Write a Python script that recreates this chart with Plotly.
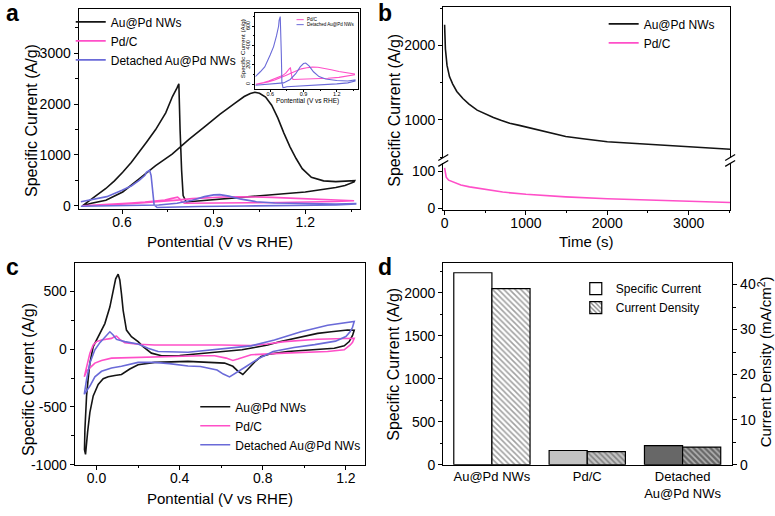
import plotly.graph_objects as go

# ---------------------------------------------------------------- data
# Panel a : CVs in ethanol (potential V vs RHE, specific current A/g)
a_aupd_E = [0.47, 0.50, 0.547, 0.602, 0.656, 0.71, 0.764, 0.819, 0.873, 0.92, 0.97, 1.00, 1.02, 1.035,
            1.05, 1.07, 1.09, 1.11, 1.13, 1.15, 1.17, 1.19, 1.22, 1.26, 1.30, 1.34, 1.362,
            1.36, 1.33, 1.30, 1.25, 1.20, 1.14, 1.08, 1.02, 0.97, 0.92, 0.87, 0.84, 0.82, 0.81,
            0.80, 0.795, 0.79, 0.786, 0.78, 0.765, 0.743, 0.71, 0.68, 0.656, 0.63, 0.602, 0.575,
            0.547, 0.52, 0.504, 0.485, 0.47]
a_aupd_I = [0, 50, 110, 272, 530, 790, 1015, 1306, 1566, 1800, 2020, 2150, 2210, 2235,
            2215, 2140, 1980, 1730, 1430, 1160, 930, 730, 560, 490, 475, 480, 495,
            470, 400, 360, 310, 270, 240, 210, 180, 150, 125, 100, 85, 70, 75,
            200, 700, 1500, 2400, 2320, 2150, 1830, 1500, 1250, 1050, 850, 660, 490,
            340, 220, 140, 60, 0]

a_pdc_E = [0.47, 0.52, 0.58, 0.64, 0.70, 0.74, 0.78, 0.83, 0.88, 0.93, 0.98, 1.03, 1.09, 1.15,
           1.22, 1.29, 1.36, 1.36, 1.30, 1.22, 1.12, 1.02, 0.92, 0.84, 0.805, 0.795, 0.79,
           0.782, 0.775, 0.76, 0.74, 0.71, 0.675, 0.63, 0.585, 0.54, 0.50, 0.47]
a_pdc_I = [0, 8, 25, 45, 70, 92, 112, 140, 160, 172, 178, 176, 165, 150,
           132, 118, 108, 98, 85, 72, 63, 58, 54, 51, 50, 80, 130,
           170, 165, 140, 115, 90, 72, 52, 34, 20, 8, 0]

a_det_E = [0.465, 0.55, 0.65, 0.72, 0.78, 0.83, 0.87, 0.90, 0.92, 0.95, 0.99, 1.04, 1.10, 1.20,
           1.30, 1.365, 1.365, 1.30, 1.20, 1.00, 0.85, 0.75, 0.715, 0.705, 0.70, 0.695, 0.69,
           0.68, 0.675, 0.656, 0.63, 0.60, 0.55, 0.51, 0.48, 0.465]
a_det_I = [-10, 0, 5, 15, 50, 110, 180, 215, 220, 190, 130, 80, 55, 40,
           35, 45, 35, 15, 5, -5, -15, -25, -35, 20, 300, 600, 700,
           660, 600, 500, 390, 305, 180, 130, 95, 80]

# Panel b : chronoamperometry (time s, specific current A/g)
b_aupd_t = [0, 5, 10, 30, 60, 100, 150, 225, 300, 400, 500, 600, 700, 800, 918, 1100, 1326,
            1489, 1700, 2000, 2300, 2550, 2800, 3000, 3250, 3510]
b_aupd_I = [2276, 2150, 1950, 1730, 1580, 1480, 1380, 1286, 1210, 1130, 1075, 1030, 990, 955,
            925, 880, 824, 775, 745, 706, 685, 670, 655, 640, 622, 604]
b_pdc_t = [0, 5, 20, 50, 102, 200, 306, 500, 714, 1000, 1250, 1489, 2000, 2500, 3000, 3510]
b_pdc_I = [109, 100, 84, 76, 71, 63, 58, 51, 44, 38, 34, 31, 26, 23, 20, 16]

# Panel c : CVs in H2SO4 (potential V vs RHE, specific current A/g)
c_aupd_E = [-0.053, -0.058, -0.056, -0.052, -0.048, -0.040, -0.032, -0.016, 0.008, 0.040, 0.064,
            0.080, 0.092, 0.104, 0.112, 0.120, 0.128, 0.144, 0.168, 0.200, 0.224, 0.264, 0.313,
            0.40, 0.50, 0.60, 0.70, 0.76, 0.824, 0.88, 0.952, 1.00, 1.064, 1.13, 1.208, 1.24,
            1.232, 1.216, 1.192, 1.144, 1.032, 0.920, 0.840, 0.792, 0.760, 0.728, 0.704, 0.680,
            0.656, 0.616, 0.552, 0.44, 0.28, 0.20, 0.16, 0.12, 0.088, 0.056, 0.032, 0.008,
            -0.016, -0.032, -0.043, -0.050, -0.053]
c_aupd_I = [-911, -870, -700, -520, -404, -250, -120, 23, 109, 222, 365,
            500, 610, 650, 600, 480, 337, 166, 109, 66, 23, -34, -56,
            -55, -40, -25, -5, 15, 37, 65, 94, 115, 137, 152, 166, 165,
            120, 66, 29, 9, -5, -20, -40, -62, -113, -176, -219, -190,
            -148, -120, -114, -105, -114, -134, -171, -219, -228, -239, -256, -305,
            -404, -547, -718, -860, -911]

c_pdc_E = [-0.059, -0.048, -0.032, -0.016, 0.0, 0.024, 0.05, 0.072, 0.088, 0.096, 0.112, 0.136,
           0.2, 0.28, 0.6, 0.744, 0.82, 0.904, 1.064, 1.208, 1.24,
           1.232, 1.221, 1.192, 1.112, 0.904, 0.744, 0.68, 0.656, 0.624, 0.568, 0.50, 0.36,
           0.2, 0.072, 0.024, -0.008, -0.032, -0.048, -0.059]
c_pdc_I = [-239, -148, -34, 37, 66, 80, 85, 94, 110, 114, 85, 57,
           43, 37, 37, 32, 45, 66, 86, 94, 95,
           60, 37, -5, -20, -34, -48, -85, -97, -77, -56, -56, -62,
           -68, -77, -97, -120, -162, -191, -239]

c_det_E = [-0.059, -0.048, -0.032, -0.008, 0.016, 0.04, 0.064, 0.08, 0.096, 0.136, 0.2, 0.248,
           0.296, 0.44, 0.6, 0.744, 0.856, 0.984, 1.112, 1.224, 1.24,
           1.232, 1.22, 1.2, 1.15, 1.05, 0.95, 0.85, 0.78, 0.72, 0.67, 0.64, 0.61, 0.58, 0.5,
           0.44, 0.35, 0.28, 0.2, 0.16, 0.12, 0.072, 0.024, -0.008, -0.032, -0.059]
c_det_I = [-390, -262, -120, -5, 57, 109, 151, 123, 85, 66, 46, 9,
           -20, -26, 0, 29, 80, 151, 208, 237, 240,
           190, 150, 110, 70, 40, 15, -20, -80, -150, -210, -240, -215, -180, -150,
           -145, -125, -114, -114, -134, -148, -162, -191, -239, -319, -390]

# Panel d : bar comparison
d_categories = ["Au@Pd NWs", "Pd/C", "Detached<br>Au@Pd NWs"]
d_specific_current = [2235, 165, 223]      # A/g  (left axis)
d_current_density = [39.1, 2.9, 3.9]       # mA/cm2 (right axis)

c_ytick_vals = [-1000, -500, 0, 500]
c_ytick_text = ["-1000", "-500", "0", "500"]

# ---------------------------------------------------------------- style
FONT = "Liberation Sans, Arial, Helvetica, sans-serif"
BLACK = "#141414"
PINK = "#ff4fc8"
BLUE = "#6a6ad8"
LW = 1.6
W, H = 775, 516


def fx(p):
    return p / W


def fy(p):
    return 1 - p / H


def axis(size=14, ticklen=4, **kw):
    d = dict(showline=True, linecolor="black", linewidth=1.3, ticks="outside", ticklen=ticklen,
             tickwidth=1.2, tickcolor="black", showgrid=False, zeroline=False,
             tickfont=dict(family=FONT, size=size, color="black"))
    d.update(kw)
    return d


def minor(dt, ln=2.5, **kw):
    d = dict(ticks="outside", ticklen=ln, tickwidth=1, tickcolor="black", dtick=dt, showgrid=False)
    d.update(kw)
    return d


fig = go.Figure()

# panel a
fig.add_trace(go.Scatter(x=a_aupd_E, y=a_aupd_I, mode="lines", name="Au@Pd NWs",
                         line=dict(color=BLACK, width=LW), xaxis="x", yaxis="y", legend="legend"))
fig.add_trace(go.Scatter(x=a_pdc_E, y=a_pdc_I, mode="lines", name="Pd/C",
                         line=dict(color=PINK, width=LW), xaxis="x", yaxis="y", legend="legend"))
fig.add_trace(go.Scatter(x=a_det_E, y=a_det_I, mode="lines", name="Detached Au@Pd NWs",
                         line=dict(color=BLUE, width=LW), xaxis="x", yaxis="y", legend="legend"))
# inset of panel a
fig.add_trace(go.Scatter(x=a_pdc_E, y=a_pdc_I, mode="lines", showlegend=False,
                         line=dict(color=PINK, width=1.1), xaxis="x2", yaxis="y2"))
fig.add_trace(go.Scatter(x=a_det_E, y=a_det_I, mode="lines", showlegend=False,
                         line=dict(color=BLUE, width=1.1), xaxis="x2", yaxis="y2"))
# panel b
fig.add_trace(go.Scatter(x=b_aupd_t, y=b_aupd_I, mode="lines", name="Au@Pd NWs",
                         line=dict(color=BLACK, width=LW), xaxis="x3", yaxis="y3", legend="legend2"))
fig.add_trace(go.Scatter(x=b_pdc_t, y=b_pdc_I, mode="lines", name="Pd/C",
                         line=dict(color=PINK, width=LW), xaxis="x4", yaxis="y4", legend="legend2"))
# panel c
fig.add_trace(go.Scatter(x=c_aupd_E, y=c_aupd_I, mode="lines", name="Au@Pd NWs",
                         line=dict(color=BLACK, width=LW), xaxis="x5", yaxis="y5", legend="legend3"))
fig.add_trace(go.Scatter(x=c_pdc_E, y=c_pdc_I, mode="lines", name="Pd/C",
                         line=dict(color=PINK, width=LW), xaxis="x5", yaxis="y5", legend="legend3"))
fig.add_trace(go.Scatter(x=c_det_E, y=c_det_I, mode="lines", name="Detached Au@Pd NWs",
                         line=dict(color=BLUE, width=LW), xaxis="x5", yaxis="y5", legend="legend3"))
# panel d
bar_fill = ["white", "#c3c3c3", "#676767"]
fig.add_trace(go.Bar(x=d_categories, y=d_specific_current, name="Specific Current",
                     width=0.4, offset=-0.4, xaxis="x6", yaxis="y6", legend="legend4",
                     marker=dict(color=bar_fill, line=dict(color="black", width=1.2))))
fig.add_trace(go.Bar(x=d_categories, y=d_current_density, name="Current Density",
                     width=0.4, offset=0.0, xaxis="x6", yaxis="y7", legend="legend4",
                     marker=dict(color=bar_fill, line=dict(color="black", width=1.2),
                                 pattern=dict(shape="\\", fillmode="overlay", fgcolor="black",
                                              size=4, solidity=0.4))))

leg = dict(bgcolor="rgba(0,0,0,0)", font=dict(family=FONT, size=12, color="black"),
           xanchor="left", yanchor="top", tracegroupgap=0)

XS = -4  # pull x tick labels a little closer to the axis line

fig.update_layout(
    width=W, height=516, margin=dict(l=0, r=0, t=0, b=0),
    paper_bgcolor="white", plot_bgcolor="white",
    font=dict(family=FONT, color="black"),
    barmode="overlay",
    # panel a
    xaxis=axis(domain=[fx(76), fx(358)], range=[0.458, 1.378], anchor="y", mirror=True,
               tick0=0.6, dtick=0.3, tickformat=".1f", minor=minor(0.15), ticklabelstandoff=XS),
    yaxis=axis(domain=[fy(212), fy(9)], range=[-58, 3876], anchor="x", mirror=True,
               tick0=0, dtick=1000, minor=minor(500)),
    # inset
    xaxis2=axis(size=5.5, ticklen=2, domain=[fx(253.3), fx(356.7)], range=[0.465, 1.395],
                anchor="y2", mirror=True, tick0=0.6, dtick=0.3, tickformat=".1f",
                linewidth=0.9, minor=minor(0.15, 1.5), ticklabelstandoff=-2),
    yaxis2=axis(size=5.5, ticklen=2, domain=[fy(90), fy(13.3)], range=[-44, 736], anchor="x2",
                mirror=True, tick0=0, dtick=200, tickangle=-90, linewidth=0.9,
                minor=minor(100, 1.5)),
    # panel b (broken axis)
    xaxis3=axis(domain=[fx(442), fx(730)], range=[-16, 3510], anchor="y3", side="top",
                mirror=False, ticks="", showticklabels=False),
    yaxis3=axis(domain=[fy(160), fy(7)], range=[494, 2515], anchor="x3", mirror=True,
                tick0=0, dtick=1000, minor=minor(500)),
    xaxis4=axis(domain=[fx(442), fx(730)], range=[-16, 3510], anchor="y4", mirror=False,
                tick0=0, dtick=1000, minor=minor(500), ticklabelstandoff=XS),
    yaxis4=axis(domain=[fy(213), fy(166)], range=[-3.4, 121], anchor="x4", mirror=True,
                tick0=0, dtick=100, minor=minor(50)),
    # panel c
    xaxis5=axis(domain=[fx(72), fx(363)], range=[-0.105, 1.29], anchor="y5", mirror=True,
                tick0=0, dtick=0.4, tickformat=".1f", minor=minor(0.2), ticklabelstandoff=XS),
    yaxis5=axis(domain=[fy(472), fy(267)], range=[-1000, 748], anchor="x5", mirror=True,
                tickmode="array", tickvals=c_ytick_vals, ticktext=c_ytick_text,
                minor=minor(250, tick0=0)),
    # panel d
    xaxis6=axis(size=13, domain=[fx(442), fx(732)], range=[-0.51, 2.52], anchor="y6",
                type="category", mirror=True, ticks=""),
    yaxis6=axis(domain=[fy(472), fy(267)], range=[0, 2350], anchor="x6", mirror=False,
                tick0=0, dtick=500, minor=minor(250)),
    yaxis7=axis(domain=[fy(472), fy(267)], range=[0, 44.8], anchor="x6", overlaying="y6",
                side="right", tick0=0, dtick=10, minor=minor(5)),
    legend=dict(leg, x=fx(68), y=fy(7.5)),
    legend2=dict(leg, x=fx(603), y=fy(9.5)),
    legend3=dict(leg, x=fx(193), y=fy(398.5)),
    legend4=dict(leg, x=fx(575), y=fy(278.5)),
)

# axis titles and panel letters
TF = dict(family=FONT, size=15, color="black")
TFY = dict(family=FONT, size=16, color="black")
notes = [
    ("Pontential (V vs RHE)", 218, 245, 0, TF),
    ("Specific Current (A/g)", 28, 122, -90, TFY),
    ("Time (s)", 585, 245, 0, TF),
    ("Specific Current (A/g)", 393, 112, -90, TFY),
    ("Pontential (V vs RHE)", 218, 506, 0, TF),
    ("Specific Current (A/g)", 25, 385, -90, TFY),
    ("Specific Current (A/g)", 392, 370, -90, TFY),
    ("Current Density (mA/cm<sup>2</sup>)", 764, 368, -90, dict(family=FONT, size=15, color="black")),
    ("Pontential (V vs RHE)", 306, 102.5, 0, dict(family=FONT, size=6.5, color="black")),
    ("Specific Current (A/g)", 240, 50, -90, dict(family=FONT, size=6.2, color="black")),
]
for txt, x, y, ang, f in notes:
    fig.add_annotation(text=txt, x=fx(x), y=fy(y), xref="paper", yref="paper", showarrow=False,
                       textangle=ang, font=f, xanchor="center", yanchor="middle")
for letter, x, y in [("a", 10, 13), ("b", 383, 13), ("c", 10, 271), ("d", 383, 271)]:
    fig.add_annotation(text="<b>%s</b>" % letter, x=fx(x), y=fy(y), xref="paper", yref="paper",
                       showarrow=False, font=dict(family=FONT, size=23, color="black"),
                       xanchor="center", yanchor="middle")

# inset legend (tiny)
for i, (name, col) in enumerate([("Pd/C", PINK), ("Detached Au@Pd NWs", BLUE)]):
    yy = 0.913 - i * 0.066
    fig.add_shape(type="line", xref="x2 domain", yref="y2 domain", x0=0.40, x1=0.47, y0=yy, y1=yy,
                  line=dict(color=col, width=1))
    fig.add_annotation(text=name, xref="x2 domain", yref="y2 domain", x=0.48, y=yy,
                       showarrow=False, xanchor="left", yanchor="middle",
                       font=dict(family=FONT, size=4.5, color="black"))

# axis break marks for panel b
for xb in (442, 730):
    for yb in (160, 166):
        fig.add_shape(type="line", xref="paper", yref="paper",
                      x0=fx(xb - 5), y0=fy(yb + 3), x1=fx(xb + 5), y1=fy(yb - 3),
                      line=dict(color="black", width=1.2))

# the page's default 8px body margin would shift the 775x516 figure; remove it
fig.write_html("out.html", config={"displayModeBar": False},
               post_script="document.body.style.margin='0';document.body.style.overflow='hidden';")
